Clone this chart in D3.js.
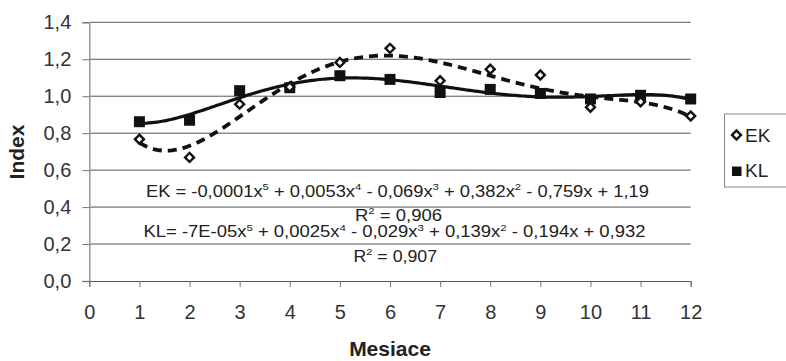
<!DOCTYPE html>
<html>
<head>
<meta charset="utf-8">
<script src="https://cdn.jsdelivr.net/npm/d3@7"></script>
<style>
  html, body { margin: 0; padding: 0; background: #fff; }
  svg { display: block; font-family: "Liberation Sans", Arial, sans-serif; }
</style>
</head>
<body>
<svg id="chart" width="786" height="361"></svg>
<script>
// ---- data ----
const months = [1, 2, 3, 4, 5, 6, 7, 8, 9, 10, 11, 12];
const ekValues = [0.767, 0.669, 0.957, 1.05, 1.183, 1.259, 1.084, 1.146, 1.115, 0.94, 0.97, 0.893];
const klValues = [0.862, 0.870, 1.030, 1.046, 1.111, 1.091, 1.020, 1.037, 1.015, 0.985, 1.005, 0.985];
const seriesNames = ["EK", "KL"];
const xTicks = [0, 1, 2, 3, 4, 5, 6, 7, 8, 9, 10, 11, 12];
const yTicks = [0, 0.2, 0.4, 0.6, 0.8, 1.0, 1.2, 1.4];
const xTitle = "Mesiace";
const yTitle = "Index";
// equation labels: [text, superscript] pieces
const ekEquation = [["EK = -0,0001x", ""], ["5", "sup"], [" + 0,0053x", ""], ["4", "sup"], [" - 0,069x", ""], ["3", "sup"], [" + 0,382x", ""], ["2", "sup"], [" - 0,759x + 1,19", ""]];
const ekR2 = [["R", ""], ["2", "sup"], [" = 0,906", ""]];
const klEquation = [["KL= -7E-05x", ""], ["5", "sup"], [" + 0,0025x", ""], ["4", "sup"], [" - 0,029x", ""], ["3", "sup"], [" + 0,139x", ""], ["2", "sup"], [" - 0,194x + 0,932", ""]];
const klR2 = [["R", ""], ["2", "sup"], [" = 0,907", ""]];

// ---- setup ----
const svg = d3.select("#chart");
const x = d3.scaleLinear().domain([0, 12]).range([89.3, 690.7]);
const y = d3.scaleLinear().domain([0, 1.4]).range([281, 22.3]);
const loc = d3.formatLocale({decimal: ",", thousands: " ", grouping: [3], currency: ["", ""]});
const fmt = loc.format(".1f");

// gridlines
svg.append("g").selectAll("line").data(yTicks.filter(d => d > 0)).join("line")
  .attr("x1", x(0)).attr("x2", x(12))
  .attr("y1", d => y(d)).attr("y2", d => y(d))
  .attr("stroke", "#555").attr("stroke-width", 1);

// y axis
const yAxis = svg.append("g").attr("transform", `translate(${x(0)},0)`)
  .call(d3.axisLeft(y).tickValues(yTicks).tickFormat(fmt).tickSize(7).tickPadding(11));
yAxis.select(".domain").attr("stroke", "#999").attr("stroke-width", 1.5);
yAxis.selectAll(".tick line").attr("stroke", "#777");
yAxis.selectAll("text").attr("font-size", 20).attr("fill", "#333")
  .attr("font-family", "Liberation Sans, Arial, sans-serif");

// x axis
const xAxis = svg.append("g").attr("transform", `translate(0,${y(0)})`)
  .call(d3.axisBottom(x).tickValues(xTicks).tickFormat(d3.format("d")).tickSize(6).tickPadding(18));
xAxis.select(".domain").attr("stroke", "#555").attr("stroke-width", 1);
xAxis.selectAll(".tick line").attr("stroke", "#777");
xAxis.selectAll("text").attr("font-size", 20).attr("fill", "#333")
  .attr("font-family", "Liberation Sans, Arial, sans-serif");

// titles
svg.append("text").attr("x", 390).attr("y", 356).attr("text-anchor", "middle")
  .attr("font-size", 21).attr("font-weight", "bold").attr("fill", "#222").text(xTitle);
svg.append("text").attr("transform", "translate(24,152) rotate(-90)").attr("text-anchor", "middle")
  .attr("font-size", 21).attr("font-weight", "bold").attr("fill", "#222").text(yTitle);

// ---- polynomial trendline (least squares, degree 5) ----
function polyFit(xs, ys, deg) {
  const n = deg + 1;
  const tx = v => (v - 6.5) / 5.5;
  const A = Array.from({length: n}, () => new Array(n + 1).fill(0));
  xs.forEach((xv, k) => {
    const t = tx(xv);
    const p = [];
    for (let i = 0; i < n; i++) p.push(Math.pow(t, i));
    for (let i = 0; i < n; i++) {
      for (let j = 0; j < n; j++) A[i][j] += p[i] * p[j];
      A[i][n] += p[i] * ys[k];
    }
  });
  for (let c = 0; c < n; c++) {
    let piv = c;
    for (let r = c + 1; r < n; r++) if (Math.abs(A[r][c]) > Math.abs(A[piv][c])) piv = r;
    [A[c], A[piv]] = [A[piv], A[c]];
    for (let r = 0; r < n; r++) {
      if (r === c) continue;
      const f = A[r][c] / A[c][c];
      for (let k = c; k <= n; k++) A[r][k] -= f * A[c][k];
    }
  }
  const coef = A.map((row, i) => row[n] / row[i]);
  return v => { const t = tx(v); return coef.reduce((s, c, i) => s + c * Math.pow(t, i), 0); };
}
const ekFit = polyFit(months, ekValues, 5);
const klFit = polyFit(months, klValues, 5);
const samples = d3.range(months[0], months[months.length - 1] + 0.001, 0.05);
const line = f => d3.line().x(d => x(d)).y(d => y(f(d))).curve(d3.curveLinear)(samples);

// markers
svg.append("g").selectAll("rect").data(months).join("rect")
  .attr("x", (d) => x(d) - 5.5).attr("y", (d, i) => y(klValues[i]) - 5.5)
  .attr("width", 11).attr("height", 11).attr("fill", "#111");

// trendlines
svg.append("path").attr("d", line(klFit)).attr("fill", "none")
  .attr("stroke", "#111").attr("stroke-width", 3.2);
svg.append("path").attr("d", line(ekFit)).attr("fill", "none")
  .attr("stroke", "#111").attr("stroke-width", 3.8).attr("stroke-dasharray", "9,6");

const diamond = d3.symbol().type(d3.symbolSquare).size(40);
svg.append("g").selectAll("path").data(months).join("path")
  .attr("d", diamond)
  .attr("transform", (d, i) => `translate(${x(d)},${y(ekValues[i])}) rotate(45)`)
  .attr("fill", "#fff").attr("stroke", "#111").attr("stroke-width", 2.4);

// equation labels
function eqLabel(parts, x0, x1, baseline, size) {
  const t = svg.append("text").attr("x", x0).attr("y", baseline)
    .attr("font-size", size).attr("fill", "#222")
    .attr("textLength", x1 - x0).attr("lengthAdjust", "spacingAndGlyphs");
  parts.forEach(([s, kind]) => {
    const ts = t.append("tspan").text(s);
    if (kind === "sup") ts.attr("font-size", size * 0.62).attr("dy", -size * 0.38);
    else ts.attr("dy", 0);
  });
  // reset dy after superscripts
  t.selectAll("tspan").each(function(d, i, nodes) {
    const prev = i > 0 ? d3.select(nodes[i - 1]) : null;
    const me = d3.select(this);
    if (!me.attr("font-size") && prev && prev.attr("font-size")) me.attr("dy", size * 0.38);
  });
}
eqLabel(ekEquation, 146, 649, 196.5, 16);
eqLabel(ekR2, 355, 442, 220.5, 16);
eqLabel(klEquation, 143.5, 645.5, 237, 16);
eqLabel(klR2, 353.5, 437, 261.5, 16);

// legend
const lg = svg.append("g");
lg.append("rect").attr("x", 724.5).attr("y", 114).attr("width", 70).attr("height", 73)
  .attr("fill", "#fff").attr("stroke", "#888").attr("stroke-width", 1);
lg.append("path").attr("d", diamond).attr("transform", "translate(736.5,135) rotate(45)")
  .attr("fill", "#fff").attr("stroke", "#111").attr("stroke-width", 2.4);
lg.append("rect").attr("x", 732).attr("y", 166.5).attr("width", 9.5).attr("height", 9.5).attr("fill", "#111");
lg.selectAll("text.leg").data(seriesNames).join("text").attr("class", "leg")
  .attr("x", 745).attr("y", (d, i) => 141.5 + i * 35)
  .attr("font-size", 19).attr("fill", "#222").text(d => d);
</script>
</body>
</html>
